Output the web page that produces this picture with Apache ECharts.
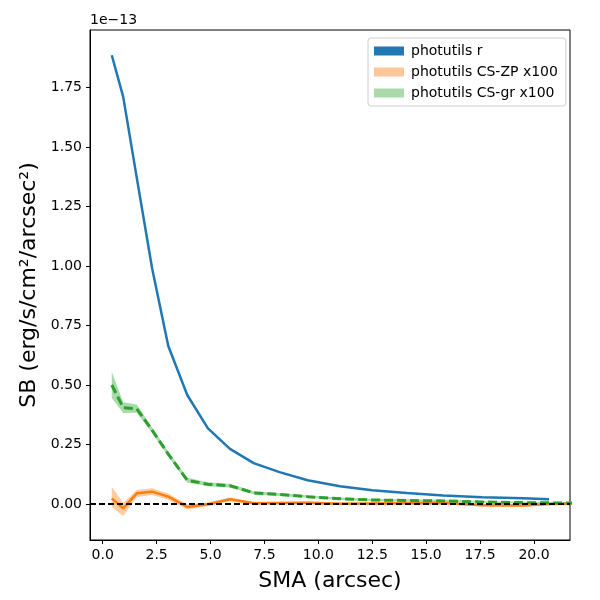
<!DOCTYPE html>
<html>
	<head>
		<meta charset="utf-8">
		<title>SB profile</title>
		<script src="https://cdn.jsdelivr.net/npm/echarts@6/dist/echarts.min.js"></script>
		<style>
			html, body { margin: 0; padding: 0; background: #fff; }
			#main { width: 600px; height: 600px; }
		</style>
	</head>
	<body>
		<div id="main"></div>
		<script>
			// values, y in units of 1e-13
			var sma = [0.42, 0.95, 1.58, 2.29, 3.04, 3.92, 4.88, 5.9, 7.0, 8.2, 9.5, 11.0, 12.5, 14.1, 15.8, 17.6, 19.5, 20.7]
			var sbR = [1.885, 1.71, 1.37, 0.99, 0.664, 0.458, 0.318, 0.232, 0.172, 0.134, 0.100, 0.075, 0.058, 0.046, 0.036, 0.029, 0.024, 0.020]

			// the x100 profiles run a little further (clipped at the right edge)
			var smaX = [0.42, 0.95, 1.58, 2.29, 3.04, 3.92, 4.88, 5.9, 7.0, 8.2, 9.5, 11.0, 12.5, 14.1, 15.8, 17.6, 19.5, 20.7, 22.0]
			var zp = [0.024, -0.018, 0.045, 0.052, 0.031, -0.012, -0.001, 0.020, 0.003, 0.004, 0.005, 0.001, 0.002, 0.003, 0.004, -0.005, -0.006, 0.000, 0.001]
			var zpLo = [-0.012, -0.050, 0.030, 0.038, 0.018, -0.022, -0.009, 0.012, -0.003, -0.002, -0.001, -0.004, -0.003, -0.002, -0.001, -0.010, -0.011, -0.005, -0.004]
			var zpHi = [0.073, 0.004, 0.059, 0.066, 0.044, -0.002, 0.007, 0.028, 0.009, 0.010, 0.011, 0.006, 0.007, 0.008, 0.009, 0.000, -0.001, 0.005, 0.006]
			var gr = [0.500, 0.405, 0.400, 0.310, 0.210, 0.100, 0.083, 0.077, 0.047, 0.040, 0.031, 0.022, 0.017, 0.015, 0.013, 0.009, 0.006, 0.005, 0.004]
			var grLo = [0.445, 0.382, 0.383, 0.298, 0.200, 0.091, 0.075, 0.070, 0.041, 0.034, 0.026, 0.017, 0.012, 0.010, 0.008, 0.005, 0.002, 0.001, 0.000]
			var grHi = [0.556, 0.428, 0.418, 0.322, 0.221, 0.110, 0.092, 0.085, 0.054, 0.046, 0.036, 0.027, 0.022, 0.020, 0.018, 0.013, 0.010, 0.009, 0.008]

			var xTicks = [0, 2.5, 5, 7.5, 10, 12.5, 15, 17.5, 20]
			var yTicks = [0, 0.25, 0.5, 0.75, 1.0, 1.25, 1.5, 1.75]

			var font = 'DejaVu Sans'

			function pairs(xs, ys) {
				return xs.map(function (x, i) { return [x, ys[i]] })
			}

			// filled band between lo and hi, drawn once through the axes' coord()
			function band(xs, lo, hi, color) {
				return function (params, api) {
					if (params.dataIndex !== 0) return
					var pts = []
					for (var i = 0; i < xs.length; i++) pts.push(api.coord([xs[i], hi[i]]))
					for (var j = xs.length - 1; j >= 0; j--) pts.push(api.coord([xs[j], lo[j]]))
					var cs = params.coordSys
					return {
						type: 'group',
						children: [{
							type: 'polygon',
							shape: { points: pts },
							style: { fill: color, opacity: 0.4 }
						}],
						clipPath: { type: 'rect', shape: { x: cs.x, y: cs.y, width: cs.width, height: cs.height } }
					}
				}
			}

			var chart = echarts.init(document.getElementById('main'))
			chart.setOption({
				animation: false,
				textStyle: { fontFamily: font },
				grid: { left: 90, top: 30, right: 30, bottom: 60, show: true, borderColor: '#000', borderWidth: 1 },
				graphic: [{
					type: 'text', left: 90, top: 13,
					style: { text: '1e\u221213', fontSize: 14, fontFamily: font, fill: '#000' }
				}],
				legend: {
					orient: 'vertical', left: 368, top: 38,
					padding: [6, 8, 6, 6], itemGap: 7,
					itemWidth: 30, itemHeight: 9, icon: 'rect',
					borderColor: '#cccccc', borderWidth: 1, borderRadius: 3,
					backgroundColor: 'rgba(255,255,255,0.8)',
					textStyle: { fontSize: 14, fontFamily: font, color: '#000', lineHeight: 14, padding: [0, 0, 0, 2] },
					data: [
						{ name: 'photutils r', itemStyle: { color: '#1f77b4' } },
						{ name: 'photutils CS-ZP x100', itemStyle: { color: '#ffc799' } },
						{ name: 'photutils CS-gr x100', itemStyle: { color: '#abd9ab' } }
					]
				},
				xAxis: {
					type: 'value', min: -0.59, max: 21.67,
					name: 'SMA (arcsec)', nameLocation: 'middle', nameGap: 30,
					nameTextStyle: { fontSize: 22, fontFamily: font, color: '#000' },
					splitLine: { show: false },
					axisLine: { onZero: false, lineStyle: { color: '#000' } },
					axisTick: { length: 4, lineStyle: { color: '#000' }, customValues: xTicks },
					axisLabel: { fontSize: 14, color: '#000', margin: 8, customValues: xTicks,
						formatter: function (v) { return v.toFixed(1) } }
				},
				yAxis: {
					type: 'value', min: -0.151, max: 1.991,
					name: 'SB (erg/s/cm\u00b2/arcsec\u00b2)', nameLocation: 'middle', nameGap: 50,
					nameTextStyle: { fontSize: 22, fontFamily: font, color: '#000' },
					splitLine: { show: false },
					axisLine: { onZero: false, lineStyle: { color: '#000' } },
					axisTick: { length: 4, lineStyle: { color: '#000' }, customValues: yTicks },
					axisLabel: { fontSize: 14, color: '#000', margin: 8, customValues: yTicks,
						formatter: function (v) { return v.toFixed(2) } }
				},
				series: [
					{
						name: 'photutils CS-ZP x100', type: 'custom', z: 1,
						itemStyle: { color: '#ffc799' },
						renderItem: band(smaX, zpLo, zpHi, '#ff7f0e'),
						data: [[smaX[0], zp[0]]], silent: true
					},
					{
						name: 'photutils CS-gr x100', type: 'custom', z: 1,
						itemStyle: { color: '#abd9ab' },
						renderItem: band(smaX, grLo, grHi, '#2ca02c'),
						data: [[smaX[0], gr[0]]], silent: true
					},
					{
						name: 'zp line', type: 'line', z: 2,
						data: pairs(smaX, zp), showSymbol: false,
						lineStyle: { color: '#ff7f0e', width: 2.5 }, itemStyle: { color: '#ff7f0e' }
					},
					{
						name: 'photutils r', type: 'line', z: 3,
						data: pairs(sma, sbR), showSymbol: false,
						lineStyle: { color: '#1f77b4', width: 2.5 }, itemStyle: { color: '#1f77b4' },
						markLine: {
							silent: true, symbol: 'none', label: { show: false },
							lineStyle: { color: '#000', width: 2, type: [6, 3] },
							data: [{ yAxis: 0 }]
						}
					},
					{
						name: 'gr line', type: 'line', z: 4,
						data: pairs(smaX, gr), showSymbol: false,
						lineStyle: { color: '#2ca02c', width: 3, type: [9, 4] }, itemStyle: { color: '#2ca02c' }
					}
				]
			})
		</script>
	</body>
</html>
